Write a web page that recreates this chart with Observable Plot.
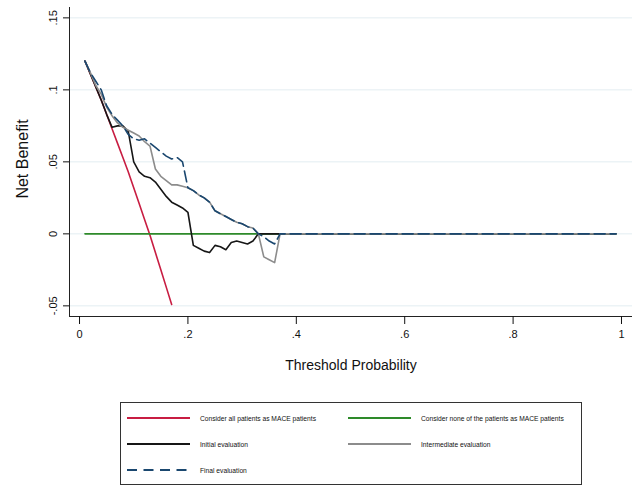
<!DOCTYPE html>
<html><head><meta charset="utf-8">
<script src="https://cdn.jsdelivr.net/npm/d3@7"></script>
<script src="https://cdn.jsdelivr.net/npm/@observablehq/plot@0.6"></script>
<style>
body{margin:0;background:#fff;font-family:"Liberation Sans",Arial,sans-serif;}
#wrap{position:relative;width:634px;height:487px;}
#legend{position:absolute;left:120px;top:402px;width:462px;height:83px;border:1px solid #333;box-sizing:border-box;}
.item{position:absolute;display:flex;align-items:center;font-size:6.7px;color:#111;white-space:nowrap;height:8px;}
.item svg{display:block;}
.item span{margin-left:10px;}
</style></head><body><div id="wrap"><div id="chart"></div><div id="legend"></div></div>
<script>
// ---- data ----
const xTicks = [0, 0.2, 0.4, 0.6, 0.8, 1];
const yTicks = [-0.05, 0, 0.05, 0.1, 0.15];

const threshold = [0.01,0.02,0.03,0.04,0.05,0.06,0.07,0.08,0.09,0.10,
  0.11,0.12,0.13,0.14,0.15,0.16,0.17,0.18,0.19,0.20,
  0.21,0.22,0.23,0.24,0.25,0.26,0.27,0.28,0.29,0.30,
  0.31,0.32,0.33,0.34,0.35,0.36,0.37,0.99];

const initialEval = [0.120,0.111,0.102,0.093,0.083,0.074,0.075,0.075,0.071,0.050,
  0.043,0.040,0.039,0.036,0.031,0.026,0.022,0.020,0.018,0.015,
  -0.008,-0.010,-0.012,-0.013,-0.008,-0.009,-0.011,-0.006,-0.005,-0.006,
  -0.007,-0.005,0,0,0,0,0,0];

const intermediateEval = [0.120,0.112,0.103,0.097,0.088,0.082,0.077,0.074,0.072,0.070,
  0.068,0.064,0.061,0.045,0.040,0.037,0.034,0.034,0.033,0.032,
  0.030,0.027,0.025,0.022,0.016,0.014,0.012,0.010,0.008,0.007,
  0.005,0.004,0,-0.016,-0.018,-0.020,0,0];

const finalEval = [0.120,0.112,0.106,0.100,0.089,0.083,0.079,0.075,0.069,0.066,
  0.065,0.066,0.063,0.060,0.057,0.054,0.052,0.053,0.050,0.032,
  0.030,0.027,0.025,0.022,0.016,0.014,0.012,0.010,0.008,0.007,
  0.005,0.004,0,-0.002,-0.005,-0.007,0,0];

const treatAllThreshold = [0.01,0.02,0.03,0.04,0.05,0.06,0.07,0.08,0.09,0.10,0.11,0.12,0.13,0.14,0.15,0.16,0.17];
const treatAll = [0.120,0.111,0.102,0.093,0.083,0.073,0.063,0.053,0.043,0.032,0.021,0.010,-0.001,-0.013,-0.025,-0.037,-0.049];

const treatNoneThreshold = [0.01, 0.99];
const treatNone = [0, 0];

const seriesNames = ["Consider all patients as MACE patients","Consider none of the patients as MACE patients","Initial evaluation","Intermediate evaluation","Final evaluation"];
const seriesColors = ["#c81d42","#2e8a2a","#161616","#8c8c8c","#1a476f"];

// ---- chart ----
const rows = (xs, ys) => xs.map((t, i) => ({t, v: ys[i]}));
const fmt = d => d === 0 ? "0" : (d < 0 ? "-" : "") + String(Math.abs(d)).replace(/^0/, "");
const xDomain = [-0.0185, 1.0203];
const yDomain = [-0.0574, 0.1572];
const FONT = '"Liberation Sans", Arial, sans-serif';

const chart = Plot.plot({
  width: 634, height: 395,
  marginLeft: 69, marginRight: 2, marginTop: 7, marginBottom: 79,
  x: {domain: xDomain},
  y: {domain: yDomain},
  style: {fontFamily: FONT, fontSize: "11px", background: "#fff", color: "#111"},
  marks: [
    Plot.ruleY(yTicks, {stroke: "#e3edf1", strokeWidth: 1}),
    Plot.ruleX([xDomain[0]], {stroke: "#222", strokeWidth: 1}),
    Plot.ruleY([yDomain[0]], {stroke: "#222", strokeWidth: 1}),
    Plot.axisX(xTicks, {tickSize: 8, tickPadding: 6, tickFormat: fmt, fontSize: 11, label: null}),
    Plot.axisY(yTicks, {tickSize: 6, tickFormat: () => "", label: null}),
    Plot.text(yTicks, {y: d => d, text: fmt, frameAnchor: "left", textAnchor: "middle", dx: -16, rotate: -90, fontSize: 11}),
    Plot.text(["Net Benefit"], {frameAnchor: "left", textAnchor: "middle", dx: -47, dy: -3, rotate: -90, fontSize: 16}),
    Plot.text(["Threshold Probability"], {frameAnchor: "bottom", dy: 53, fontSize: 14}),
    Plot.line(rows(treatAllThreshold, treatAll), {x: "t", y: "v", stroke: seriesColors[0], strokeWidth: 1.6}),
    Plot.line(rows(treatNoneThreshold, treatNone), {x: "t", y: "v", stroke: seriesColors[1], strokeWidth: 1.6}),
    Plot.line(rows(threshold, initialEval), {x: "t", y: "v", stroke: seriesColors[2], strokeWidth: 1.6}),
    Plot.line(rows(threshold, intermediateEval), {x: "t", y: "v", stroke: seriesColors[3], strokeWidth: 1.6}),
    Plot.line(rows(threshold, finalEval), {x: "t", y: "v", stroke: seriesColors[4], strokeWidth: 1.6, strokeDasharray: "11,5"})
  ]
});
document.getElementById("chart").appendChild(chart);

// ---- legend (below the SVG) ----
const legend = document.getElementById("legend");
const pos = [[6, 15], [227, 15], [6, 41], [227, 41], [6, 67]];
seriesNames.forEach((name, i) => {
  const div = document.createElement("div");
  div.className = "item";
  div.style.left = pos[i][0] + "px";
  div.style.top = (pos[i][1] - 4) + "px";
  const dash = i === 4 ? ' stroke-dasharray="10,6.5"' : '';
  div.innerHTML = `<svg width="63" height="8"><line x1="0" y1="4" x2="63" y2="4" stroke="${seriesColors[i]}" stroke-width="2"${dash}/></svg><span></span>`;
  div.querySelector("span").textContent = name;
  legend.appendChild(div);
});
</script></body></html>
